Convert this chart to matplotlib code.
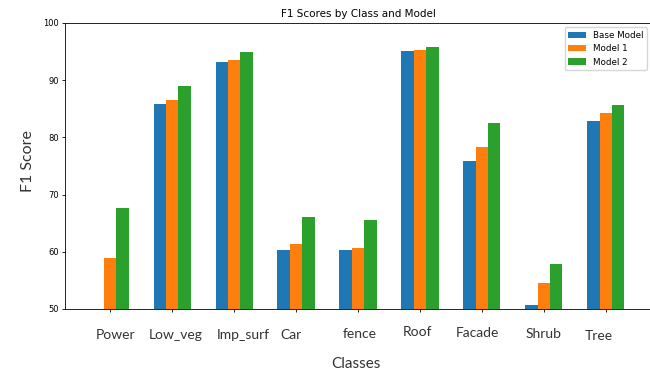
import numpy as np
import matplotlib.pyplot as plt
import matplotlib.transforms as mtransforms

# Data
classes = ['Power', 'Low_veg', 'Imp_surf', 'Car', 'fence', 'Roof', 'Facade', 'Shrub', 'Tree']
base_model = [45.0, 85.8, 93.2, 60.3, 60.3, 95.1, 75.9, 50.7, 82.9]
model_1 = [59.0, 86.6, 93.6, 61.4, 60.6, 95.3, 78.3, 54.5, 84.2]
model_2 = [67.6, 88.9, 94.9, 66.1, 65.5, 95.8, 82.5, 57.9, 85.7]

# small hand placement of the class labels (pixels, relative to tick)
label_dx = [5, 4, 9, -5, 2, -2, -4, 0, -7]
label_dy = [0, 0, 0, 0, 1, 3, 2, 1, -1]

x = np.arange(len(classes))
width = 0.2

fig = plt.figure(figsize=(6.5, 3.72), dpi=100)
ax = fig.add_axes([0.1, 0.1694, 0.9015, 0.7688])

ax.bar(x - width, base_model, width, label='Base Model', color='#1f77b4')
ax.bar(x, model_1, width, label='Model 1', color='#ff7f0e')
ax.bar(x + width, model_2, width, label='Model 2', color='#2ca02c')

ax.set_ylim(50, 100)
ax.set_title('F1 Scores by Class and Model', fontsize=7.5, pad=4)
ax.set_xticks(x)
ax.set_xticklabels([''] * len(classes))
ax.tick_params(axis='both', labelsize=6, length=2.2, width=0.6, pad=2)
for s in ax.spines.values():
    s.set_linewidth(0.6)

# class names drawn in a different font, like the reference
trans = mtransforms.blended_transform_factory(ax.transData, ax.transAxes)
for i, name in enumerate(classes):
    off = mtransforms.ScaledTranslation(label_dx[i] / 100, (label_dy[i] - 26) / 100, fig.dpi_scale_trans)
    ax.text(i, 0, name, transform=trans + off, ha='center', va='center',
            fontfamily='Lato', fontsize=10, color='#333333')

fig.text(356 / 650, 1 - 364 / 372, 'Classes', ha='center', va='center',
         fontfamily='Lato', fontsize=11, color='#333333')
fig.text(28 / 650, 1 - 161 / 372, 'F1 Score', ha='center', va='center', rotation=90,
         fontfamily='Lato', fontsize=11.5, color='#333333')

ax.legend(loc='upper right', fontsize=6.3, handlelength=2, borderaxespad=0.5)

plt.savefig('out.png', dpi=100)
